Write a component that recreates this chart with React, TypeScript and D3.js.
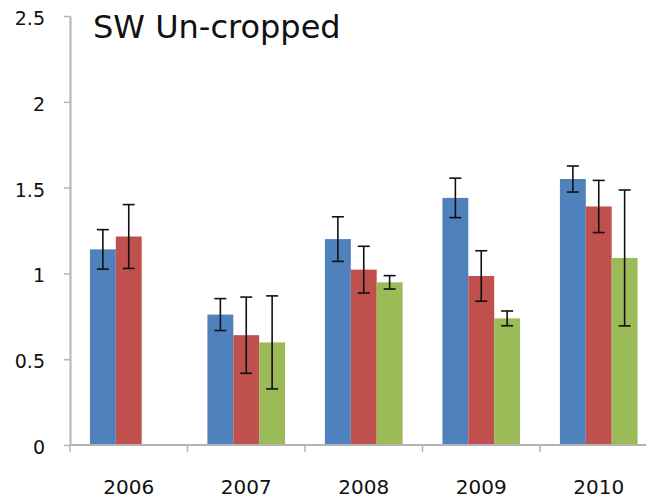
import React, { useRef, useEffect } from 'react';
import * as d3 from 'd3';

// chart data
const years = ['2006', '2007', '2008', '2009', '2010'];
const seriesNames = ['s1', 's2', 's3'];
const blueValues = [1.14, 0.76, 1.2, 1.44, 1.55];
const blueErrors = [0.115, 0.093, 0.13, 0.115, 0.076];
const redValues = [1.215, 0.64, 1.022, 0.985, 1.39];
const redErrors = [0.186, 0.222, 0.136, 0.147, 0.152];
const greenValues = [null, 0.598, 0.948, 0.738, 1.09];
const greenErrors = [null, 0.271, 0.039, 0.043, 0.396];
const yTicks = [0, 0.5, 1, 1.5, 2, 2.5];
const colors = ['#4F81BD', '#C0504D', '#9BBB59'];
const title = 'SW Un-cropped';

const App = () => {
  const chartRef = useRef<SVGSVGElement | null>(null);

  useEffect(() => {
    if (!chartRef.current) return;
    const svg = d3.select(chartRef.current);
    svg.selectAll('*').remove();

    const font = 'Verdana, "DejaVu Sans", sans-serif';
    const left = 70;
    const right = 657.5; // plot runs past the right edge, as in the picture
    const top = 16;
    const bottom = 445;

    const x0 = d3.scaleBand<string>().domain(years).range([left, right]).paddingInner(0).paddingOuter(0);
    const x1 = d3
      .scaleBand<string>()
      .domain(seriesNames)
      .range([0, x0.bandwidth()])
      .paddingInner(0)
      .paddingOuter(0.77);
    const y = d3.scaleLinear().domain([0, 2.5]).range([bottom, top]);

    const series = [
      { name: 's1', values: blueValues, errors: blueErrors, color: colors[0] },
      { name: 's2', values: redValues, errors: redErrors, color: colors[1] },
      { name: 's3', values: greenValues, errors: greenErrors, color: colors[2] },
    ];

    // bars
    series.forEach(s => {
      const rows = years
        .map((yr, i) => ({ yr, v: s.values[i], e: s.errors[i] }))
        .filter(d => d.v != null) as { yr: string; v: number; e: number }[];

      svg
        .append('g')
        .selectAll('rect')
        .data(rows)
        .join('rect')
        .attr('x', d => x0(d.yr)! + x1(s.name)!)
        .attr('y', d => y(d.v))
        .attr('width', x1.bandwidth())
        .attr('height', d => y(0) - y(d.v))
        .attr('fill', s.color);
    });

    // error bars
    series.forEach(s => {
      const rows = years
        .map((yr, i) => ({ yr, v: s.values[i], e: s.errors[i] }))
        .filter(d => d.v != null) as { yr: string; v: number; e: number }[];
      const g = svg.append('g').attr('stroke', '#111').attr('stroke-width', 1.6);
      rows.forEach(d => {
        const cx = x0(d.yr)! + x1(s.name)! + x1.bandwidth() / 2;
        const y1 = y(d.v + d.e);
        const y2 = y(d.v - d.e);
        g.append('line').attr('x1', cx).attr('x2', cx).attr('y1', y1).attr('y2', y2);
        g.append('line').attr('x1', cx - 6).attr('x2', cx + 6).attr('y1', y1).attr('y2', y1);
        g.append('line').attr('x1', cx - 6).attr('x2', cx + 6).attr('y1', y2).attr('y2', y2);
      });
    });

    // y axis
    const yAxis = d3
      .axisLeft(y)
      .tickValues(yTicks)
      .tickSize(6)
      .tickSizeOuter(0)
      .tickPadding(19)
      .tickFormat(d => String(d));
    const yg = svg.append('g').attr('transform', `translate(${left},0)`).call(yAxis);
    yg.select('.domain').attr('stroke', '#B4B4B4').attr('stroke-width', 2);
    yg.selectAll('.tick line').attr('stroke', '#B4B4B4').attr('stroke-width', 1.5);
    yg.selectAll('.tick text')
      .attr('font-family', font)
      .attr('font-size', 19)
      .attr('fill', '#111')
      .attr('dy', '0.45em');

    // x axis (ticks between categories)
    const xg = svg.append('g');
    xg.append('line')
      .attr('x1', left)
      .attr('x2', right)
      .attr('y1', y(0))
      .attr('y2', y(0))
      .attr('stroke', '#B4B4B4')
      .attr('stroke-width', 2);
    const edges = years.map(yr => x0(yr)!).concat([x0.range()[1]]);
    xg.selectAll('line.tick')
      .data(edges)
      .join('line')
      .attr('class', 'tick')
      .attr('x1', d => d)
      .attr('x2', d => d)
      .attr('y1', y(0))
      .attr('y2', y(0) + 7)
      .attr('stroke', '#B4B4B4')
      .attr('stroke-width', 1.5);
    xg.selectAll('text')
      .data(years)
      .join('text')
      .attr('x', d => x0(d)! + x0.bandwidth() / 2)
      .attr('y', 494)
      .attr('text-anchor', 'middle')
      .attr('font-family', font)
      .attr('font-size', 20)
      .attr('fill', '#111')
      .text(d => d);

    // title
    svg
      .append('text')
      .attr('x', 93)
      .attr('y', 38)
      .attr('font-family', font)
      .attr('font-size', 32)
      .attr('fill', '#111')
      .text(title);
  }, []);

  return (
    <svg
      ref={chartRef}
      width={646}
      height={498}
      style={{ position: 'absolute', left: 0, top: 0, background: '#fff' }}
    />
  );
};

export default App;
